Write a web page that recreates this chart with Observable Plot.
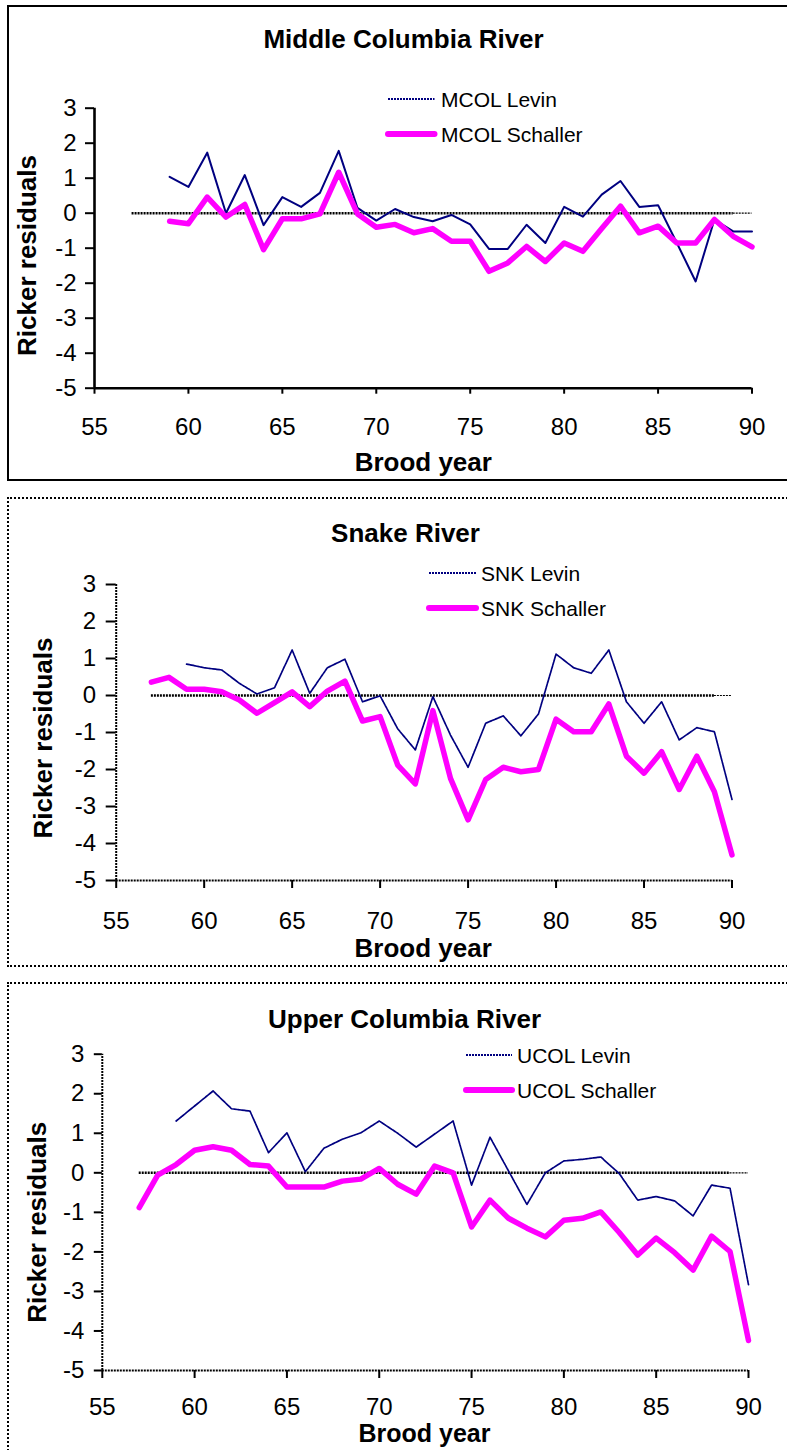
<!DOCTYPE html>
<html><head><meta charset="utf-8">
<script src="https://cdn.jsdelivr.net/npm/d3@7"></script>
<script src="https://cdn.jsdelivr.net/npm/@observablehq/plot@0.6"></script>
<style>
body{margin:0;background:#fff;font-family:"Liberation Sans",Arial,sans-serif;}
#page{position:relative;width:787px;height:1450px;overflow:hidden;background:#fff;}
.box{position:absolute;left:7px;width:900px;box-sizing:border-box;z-index:2;pointer-events:none;}
.leg{position:absolute;z-index:3;font-size:21px;color:#000;white-space:nowrap;transform:translateY(-50%);line-height:1;}
.sw{position:absolute;z-index:3;}
</style></head><body><div id="page"></div>
<script>
// ---------- data ----------
const xTicks = [55, 60, 65, 70, 75, 80, 85, 90];
const yTicks = [-5, -4, -3, -2, -1, 0, 1, 2, 3];

const yearsFrom59 = [59,60,61,62,63,64,65,66,67,68,69,70,71,72,73,74,75,76,77,78,79,80,81,82,83,84,85,86,87,88,89,90];
const yearsFrom57 = [57,58,59,60,61,62,63,64,65,66,67,68,69,70,71,72,73,74,75,76,77,78,79,80,81,82,83,84,85,86,87,88,89,90];

const mcolLevin = [1.04,0.75,1.73,0.00,1.09,-0.34,0.46,0.18,0.58,1.78,0.15,-0.21,0.12,-0.11,-0.23,-0.05,-0.32,-1.02,-1.02,-0.33,-0.85,0.18,-0.10,0.53,0.92,0.18,0.23,-0.85,-1.95,-0.18,-0.52,-0.52];
const mcolSchaller = [-0.23,-0.30,0.46,-0.11,0.25,-1.04,-0.16,-0.16,-0.02,1.17,-0.02,-0.40,-0.32,-0.56,-0.44,-0.80,-0.80,-1.66,-1.42,-0.95,-1.38,-0.85,-1.09,-0.44,0.20,-0.56,-0.37,-0.85,-0.85,-0.18,-0.66,-0.96];

const snkLevin = [0.85,0.75,0.69,0.33,0.04,0.21,1.23,0.06,0.75,0.98,-0.17,-0.01,-0.90,-1.47,-0.03,-1.07,-1.94,-0.75,-0.55,-1.09,-0.50,1.12,0.75,0.60,1.23,-0.17,-0.75,-0.17,-1.20,-0.87,-0.98,-2.81];
const snkSchaller = [0.36,0.49,0.17,0.17,0.10,-0.12,-0.48,-0.19,0.10,-0.30,0.12,0.39,-0.69,-0.57,-1.88,-2.39,-0.41,-2.24,-3.36,-2.27,-1.94,-2.06,-2.00,-0.64,-0.98,-0.98,-0.23,-1.64,-2.10,-1.52,-2.54,-1.64,-2.60,-4.31];

const ucolLevin = [1.31,1.69,2.07,1.62,1.56,0.51,1.01,0.03,0.62,0.85,1.01,1.31,1.00,0.65,0.98,1.31,-0.31,0.90,0.05,-0.80,0.00,0.30,0.34,0.40,-0.02,-0.69,-0.60,-0.71,-1.09,-0.31,-0.39,-2.83];
const ucolSchaller = [-0.88,-0.06,0.21,0.57,0.66,0.57,0.21,0.17,-0.36,-0.36,-0.36,-0.21,-0.16,0.11,-0.29,-0.54,0.17,0.00,-1.37,-0.69,-1.15,-1.40,-1.62,-1.20,-1.15,-0.99,-1.51,-2.08,-1.65,-2.02,-2.46,-1.60,-1.99,-4.24];

const zeroLine = [{from: 57, to: 89, w: 2.6}, {from: 89, to: 90, w: 1.2}];

// ---------- layout ----------
const panels = [
  {title: "Middle Columbia River", prefix: "MCOL",
   levinY: yearsFrom59, levin: mcolLevin, schallerY: yearsFrom59, schaller: mcolSchaller,
   top: 0, height: 480, mL: 94, mR: 35.5, mT: 107.7, mB: 92.3, dotted: false,
   titleDx: -19.7, titleDy: -68.7, xlabDx: 0, xlabDy: 74, xlabSize: 26, ylabDx: -66.4, ylabDy: 7.3,
   xts: 6, xtp: 24, yts: 9, ytp: 9,
   box: {top: 5, height: 476, border: "2.6px solid #000"},
   leg: {x1: 387.5, x2: 434, tx: 441, y1: 99, y2: 134}},
  {title: "Snake River", prefix: "SNK",
   levinY: yearsFrom59, levin: snkLevin, schallerY: yearsFrom57, schaller: snkSchaller,
   top: 485, height: 485, mL: 115.7, mR: 55.5, mT: 99, mB: 90, dotted: true,
   titleDx: -18.6, titleDy: -51, xlabDx: -0.9, xlabDy: 67.7, xlabSize: 26, ylabDx: -73, ylabDy: 5.5,
   xts: 8, xtp: 23, yts: 10, ytp: 10,
   box: {top: 497, height: 470, border: "2px dotted #000"},
   leg: {x1: 429, x2: 476, tx: 481, y1: 573, y2: 608}},
  {title: "Upper Columbia River", prefix: "UCOL",
   levinY: yearsFrom59, levin: ucolLevin, schallerY: yearsFrom57, schaller: ucolSchaller,
   top: 965, height: 485, mL: 101.8, mR: 39, mT: 88.7, mB: 80, dotted: true,
   titleDx: -20.9, titleDy: -34.7, xlabDx: -0.9, xlabDy: 63.5, xlabSize: 25, ylabDx: -64.2, ylabDy: 9.9,
   xts: 8, xtp: 19, yts: 8, ytp: 10,
   box: {top: 982, height: 520, border: "2px dotted #000", noBottom: true},
   leg: {x1: 466, x2: 512, tx: 517, y1: 1055, y2: 1090}}
];

const page = document.getElementById("page");
const NAVY = "#000080", MAGENTA = "#FF00FF";
const FONT = "'Liberation Sans', Arial, Helvetica, sans-serif";

panels.forEach(p => {
  const levinData = p.levinY.map((yr, i) => ({year: yr, value: p.levin[i]}));
  const schallerData = p.schallerY.map((yr, i) => ({year: yr, value: p.schaller[i]}));
  const axisDash = p.dotted ? "2,1" : null;

  const chart = Plot.plot({
    width: 787, height: p.height,
    marginLeft: p.mL, marginRight: p.mR, marginTop: p.mT, marginBottom: p.mB,
    style: {background: "transparent", fontFamily: FONT, color: "#000", overflow: "visible"},
    x: {domain: [55, 90], label: null},
    y: {domain: [-5, 3], label: null},
    marks: [
      Plot.axisX({ticks: xTicks, tickFormat: d => String(d), tickSize: p.xts, tickPadding: p.xtp,
                  fontSize: 24, strokeWidth: 2, label: null, anchor: "bottom"}),
      Plot.axisY({ticks: yTicks, tickFormat: d => String(d), tickSize: p.yts, tickPadding: p.ytp,
                  fontSize: 24, strokeWidth: 2, label: null, anchor: "left"}),
      Plot.ruleX([55], {y1: -5, y2: 3, stroke: "#000", strokeWidth: p.dotted ? 2 : 2.6, strokeDasharray: axisDash}),
      Plot.ruleY([-5], {x1: 55, x2: 90, stroke: "#000", strokeWidth: p.dotted ? 2 : 2.6, strokeDasharray: axisDash}),
      Plot.ruleY(zeroLine, {y: () => 0, x1: "from", x2: "to", stroke: "#000",
                 strokeWidth: d => d.w, strokeDasharray: "2,1"}),
      Plot.line(levinData, {x: "year", y: "value", stroke: NAVY, strokeWidth: p.dotted ? 1.7 : 2,
                 strokeDasharray: p.dotted ? "3,0.8" : null}),
      Plot.line(schallerData, {x: "year", y: "value", stroke: MAGENTA, strokeWidth: 5.5,
                 strokeLinejoin: "round", strokeLinecap: "round"}),
      Plot.text([p.title], {frameAnchor: "top", text: d => d, dx: p.titleDx, dy: p.titleDy,
                 fontSize: 26, fontWeight: "bold", lineAnchor: "middle", fill: "#000"}),
      Plot.text(["Brood year"], {frameAnchor: "bottom", text: d => d, dx: p.xlabDx, dy: p.xlabDy,
                 fontSize: p.xlabSize, fontWeight: "bold", lineAnchor: "middle", fill: "#000"}),
      Plot.text(["Ricker residuals"], {frameAnchor: "left", text: d => d, dx: p.ylabDx, dy: p.ylabDy,
                 rotate: -90, textAnchor: "middle", lineAnchor: "middle",
                 fontSize: 26, fontWeight: "bold", fill: "#000"})
    ]
  });
  chart.style.position = "absolute";
  chart.style.left = "0px";
  chart.style.top = p.top + "px";
  page.appendChild(chart);

  // border box
  const box = document.createElement("div");
  box.className = "box";
  box.style.top = p.box.top + "px";
  box.style.height = p.box.height + "px";
  box.style.borderLeft = p.box.border;
  box.style.borderTop = p.box.border;
  if (!p.box.noBottom) box.style.borderBottom = p.box.border;
  page.appendChild(box);

  // legend
  const entries = [
    {label: p.prefix + " Levin", y: p.leg.y1, color: NAVY, w: 2, dash: "2,1"},
    {label: p.prefix + " Schaller", y: p.leg.y2, color: MAGENTA, w: 6, dash: null}
  ];
  entries.forEach(e => {
    const sw = document.createElementNS("http://www.w3.org/2000/svg", "svg");
    sw.setAttribute("class", "sw");
    const w = p.leg.x2 - p.leg.x1 + 8;
    sw.setAttribute("width", w);
    sw.setAttribute("height", 12);
    sw.style.left = (p.leg.x1 - 4) + "px";
    sw.style.top = (e.y - 6) + "px";
    const ln = document.createElementNS("http://www.w3.org/2000/svg", "line");
    ln.setAttribute("x1", 4); ln.setAttribute("x2", w - 4);
    ln.setAttribute("y1", 6); ln.setAttribute("y2", 6);
    ln.setAttribute("stroke", e.color);
    ln.setAttribute("stroke-width", e.w);
    if (e.dash) ln.setAttribute("stroke-dasharray", e.dash);
    else ln.setAttribute("stroke-linecap", "round");
    sw.appendChild(ln);
    page.appendChild(sw);
    const t = document.createElement("div");
    t.className = "leg";
    t.textContent = e.label;
    t.style.left = p.leg.tx + "px";
    t.style.top = e.y + "px";
    page.appendChild(t);
  });
});
</script></body></html>
